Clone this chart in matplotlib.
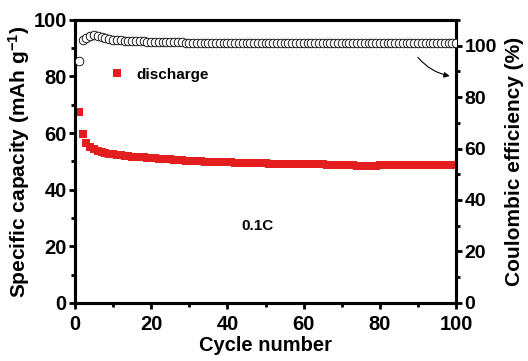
import matplotlib
matplotlib.use("Agg")
import matplotlib.pyplot as plt
from matplotlib.ticker import MultipleLocator

plt.rcParams['font.family'] = ['Liberation Sans', 'DejaVu Sans']
plt.rcParams['font.weight'] = 'bold'
plt.rcParams['mathtext.fontset'] = 'custom'
plt.rcParams['mathtext.rm'] = 'Liberation Sans:bold'
plt.rcParams['mathtext.bf'] = 'Liberation Sans:bold'
plt.rcParams['mathtext.it'] = 'Liberation Sans:bold'

cycles = list(range(1, 101))
discharge = [67.5, 59.5, 56.5, 55.0, 54.2, 53.7, 53.3, 53.0, 52.7, 52.5,
             52.3, 52.1, 52.0, 51.8, 51.7, 51.6, 51.5, 51.4, 51.3, 51.2,
             51.1, 51.0, 50.9, 50.8, 50.7, 50.6, 50.5, 50.4, 50.3, 50.2,
             50.1, 50.0, 50.0, 49.9, 49.9, 49.8, 49.8, 49.7, 49.7, 49.6,
             49.6, 49.5, 49.5, 49.5, 49.4, 49.4, 49.4, 49.3, 49.3, 49.3,
             49.2, 49.2, 49.2, 49.2, 49.1, 49.1, 49.1, 49.0, 49.0, 49.0,
             49.0, 48.9, 48.9, 48.9, 48.9, 48.8, 48.8, 48.8, 48.8, 48.7,
             48.7, 48.7, 48.6, 48.5, 48.4, 48.4, 48.4, 48.5, 48.5, 48.6,
             48.6, 48.6, 48.6, 48.6, 48.6, 48.6, 48.6, 48.6, 48.6, 48.6,
             48.6, 48.6, 48.6, 48.6, 48.6, 48.6, 48.6, 48.6, 48.6, 48.6]
efficiency = [94.0, 102.0, 103.0, 103.8, 104.0, 103.8, 103.5, 103.0, 102.5, 102.2,
              102.0, 102.0, 101.9, 101.9, 101.8, 101.8, 101.7, 101.6, 101.5, 101.4,
              101.4, 101.3, 101.3, 101.3, 101.2, 101.2, 101.2, 101.2, 101.1, 101.1,
              101.1, 101.1, 101.1, 101.1, 101.0, 101.0, 101.0, 101.0, 101.0, 101.0,
              101.0, 101.0, 101.0, 101.0, 101.0, 101.0, 100.9, 100.9, 100.9, 100.9,
              100.9, 100.9, 100.9, 100.9, 100.9, 100.9, 100.9, 100.9, 100.9, 100.9,
              100.9, 100.9, 100.9, 100.9, 100.9, 100.9, 100.9, 100.9, 100.9, 100.9,
              100.9, 100.9, 100.9, 100.9, 100.9, 100.9, 100.9, 100.9, 100.9, 100.9,
              100.9, 100.9, 100.9, 100.9, 100.9, 100.9, 100.9, 100.9, 100.9, 100.9,
              100.9, 100.9, 100.9, 100.9, 100.9, 100.9, 100.9, 100.9, 100.9, 100.9]

fig = plt.figure(figsize=(5.28, 3.61), dpi=100)
ax = fig.add_axes([0.142, 0.161, 0.722, 0.784])
ax2 = ax.twinx()

ax.plot(cycles, discharge, 's', color='#e41e1e', markersize=5.8, markeredgewidth=0,
        label='discharge', zorder=3)
ax2.plot(cycles, efficiency, 'o', markerfacecolor='white', markeredgecolor='black',
         markersize=6.2, markeredgewidth=0.6, zorder=3)

ax.set_xlim(0, 100)
ax.set_ylim(0, 100)
ax2.set_ylim(0, 110)

ax.xaxis.set_major_locator(MultipleLocator(20))
ax.xaxis.set_minor_locator(MultipleLocator(10))
ax.yaxis.set_major_locator(MultipleLocator(20))
ax.yaxis.set_minor_locator(MultipleLocator(10))
ax2.yaxis.set_major_locator(MultipleLocator(20))
ax2.yaxis.set_minor_locator(MultipleLocator(10))

for a in (ax, ax2):
    for s in a.spines.values():
        s.set_linewidth(2.2)
    a.tick_params(which='major', direction='out', length=4.5, width=2.0,
                  labelsize=14.5, pad=1.5)
    a.tick_params(which='minor', direction='out', length=3, width=2.0)
    for lab in a.get_xticklabels() + a.get_yticklabels():
        lab.set_fontweight('bold')
ax.tick_params(axis='x', which='major', pad=4)
ax2.tick_params(axis='y', which='major', labelsize=14)

ax.set_xlabel('Cycle number', fontsize=14.5, fontweight='bold', labelpad=2)
ax.set_ylabel('Specific capacity (mAh g$^{-1}$)', fontsize=15, fontweight='bold', labelpad=1)
ax2.set_ylabel('Coulombic efficiency (%)', fontsize=15, fontweight='bold', labelpad=6)

ax.legend(loc='center left', bbox_to_anchor=(0.045, 0.806), frameon=False,
          prop={'weight': 'bold', 'size': 11}, handletextpad=0.5, handlelength=1.5,
          markerscale=1.0)

ax.text(0.48, 0.27, '0.1C', transform=ax.transAxes, fontsize=11, fontweight='bold',
        ha='center', va='center')

ax.annotate('', xy=(0.99, 0.80), xytext=(0.895, 0.875), xycoords='axes fraction',
            arrowprops=dict(arrowstyle='-|>', color='black', lw=0.8,
                            connectionstyle='arc3,rad=0.2', mutation_scale=8))

fig.savefig('out.png', dpi=100)
